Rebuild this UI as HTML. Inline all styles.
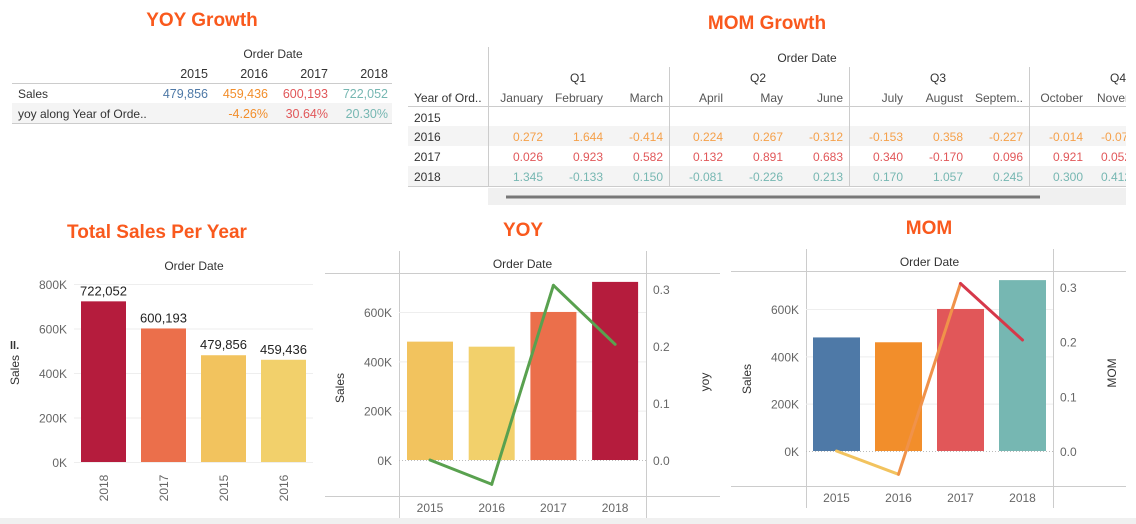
<!DOCTYPE html>
<html><head><meta charset="utf-8"><style>
html,body{margin:0;padding:0;background:#fff;width:1136px;height:524px;overflow:hidden}
svg{display:block;font-family:"Liberation Sans",sans-serif}
</style></head><body>
<svg id="s" width="1136" height="524" xmlns="http://www.w3.org/2000/svg">
<defs><clipPath id="tclip"><rect x="400" y="40" width="726" height="170"/></clipPath></defs>
<rect x="0" y="518" width="1136" height="6" fill="#f0f0f0"/>
<g>
<text x="202" y="26" text-anchor="middle" font-size="19" font-weight="bold" fill="#f9591d">YOY Growth</text>
<text x="273" y="58" text-anchor="middle" font-size="12" fill="#333">Order Date</text>
<rect x="12" y="103" width="380" height="20" fill="#f4f4f4"/>
<line x1="12" y1="83.5" x2="392" y2="83.5" stroke="#ccc"/>
<line x1="12" y1="123.5" x2="392" y2="123.5" stroke="#ccc"/>
<g font-size="12.5" text-anchor="end" fill="#333">
<text x="208" y="78">2015</text><text x="268" y="78">2016</text><text x="328" y="78">2017</text><text x="388" y="78">2018</text>
<text x="208" y="98" fill="#4e79a7">479,856</text><text x="268" y="98" fill="#f28e2b">459,436</text><text x="328" y="98" fill="#e15759">600,193</text><text x="388" y="98" fill="#76b7b2">722,052</text>
<text x="268" y="118" fill="#f28e2b">-4.26%</text><text x="328" y="118" fill="#e15759">30.64%</text><text x="388" y="118" fill="#76b7b2">20.30%</text>
</g>
<text x="18" y="98" font-size="12" fill="#333">Sales</text>
<text x="18" y="118" font-size="12" fill="#333">yoy along Year of Orde..</text>
</g>
<text x="767" y="29" text-anchor="middle" font-size="19" font-weight="bold" fill="#f9591d">MOM Growth</text>
<g id="momt" clip-path="url(#tclip)">
<rect x="408" y="126" width="718" height="20" fill="#f4f4f4"/>
<rect x="408" y="166" width="718" height="20" fill="#f4f4f4"/>
<line x1="408" y1="106.5" x2="1126" y2="106.5" stroke="#ccc"/>
<line x1="408" y1="186.5" x2="1126" y2="186.5" stroke="#ccc"/>
<line x1="488.5" y1="47" x2="488.5" y2="187" stroke="#ccc"/>
<line x1="669.5" y1="67" x2="669.5" y2="187" stroke="#ccc"/>
<line x1="849.5" y1="67" x2="849.5" y2="187" stroke="#ccc"/>
<line x1="1029.5" y1="67" x2="1029.5" y2="187" stroke="#ccc"/>
<rect x="488" y="188" width="638" height="17" fill="#f0f0f0"/>
<line x1="506" y1="197" x2="1040" y2="197" stroke="#777" stroke-width="3"/>
<text x="807" y="62" text-anchor="middle" font-size="12" fill="#333">Order Date</text>
<g font-size="12" fill="#333" text-anchor="middle"><text x="578" y="82">Q1</text><text x="758" y="82">Q2</text><text x="938" y="82">Q3</text><text x="1118" y="82">Q4</text></g>
<text x="414" y="102" font-size="12" fill="#333">Year of Ord..</text>
<g font-size="12" fill="#333"><text x="414" y="122">2015</text><text x="414" y="141">2016</text><text x="414" y="161">2017</text><text x="414" y="181">2018</text></g>
</g>
<g id="c1"></g>
<g id="c2"></g>
<g id="c3"></g>
</svg>
<script>
const NS="http://www.w3.org/2000/svg";
function mk(p,t,a,txt){const e=document.createElementNS(NS,t);for(const k in a)e.setAttribute(k,a[k]);if(txt!==undefined)e.textContent=txt;p.appendChild(e);return e;}
const months=["January","February","March","April","May","June","July","August","Septem..","October","November"];
const mom2016=["0.272","1.644","-0.414","0.224","0.267","-0.312","-0.153","0.358","-0.227","-0.014","-0.071"];
const mom2017=["0.026","0.923","0.582","0.132","0.891","0.683","0.340","-0.170","0.096","0.921","0.052"];
const mom2018=["1.345","-0.133","0.150","-0.081","-0.226","0.213","0.170","1.057","0.245","0.300","0.412"];
const mt=document.getElementById('momt');
months.forEach((m,i)=>{const x=543+i*60;const last=i==10;
 const a=last?{x:1097,y:102,"font-size":12,fill:"#555"}:{x:x,y:102,"font-size":12,fill:"#555","text-anchor":"end"};
 let t=mk(mt,"text",a,m);
 [[mom2016,141,"#f5a04a"],[mom2017,161,"#e15759"],[mom2018,181,"#76b7b2"]].forEach(r=>{
  const b=last?{x:1101,y:r[1],"font-size":12,fill:r[2]}:{x:x,y:r[1],"font-size":12,fill:r[2],"text-anchor":"end"};
  let c=mk(mt,"text",b,r[0][i]);});
});
const c1Years=["2018","2017","2015","2016"];
const c1Sales=[722052,600193,479856,459436];
const c1Colors=["#b51c3d","#eb6f4b","#f2c35e","#f2d06b"];
const c1Ticks=[0,200000,400000,600000,800000];
const years=["2015","2016","2017","2018"];
const sales=[479856,459436,600193,722052];
const yoy=[0,-0.0426,0.3064,0.203];
const mom=[0,-0.0426,0.3064,0.203];
const salesTicks=[0,200000,400000,600000];
const rightTicks=[0,0.1,0.2,0.3];
function kfmt(v){return (v/1000)+"K";}
(function(){const g=document.getElementById('c1');
 mk(g,"text",{x:157,y:238,"text-anchor":"middle","font-size":19,"font-weight":"bold",fill:"#f9591d"},"Total Sales Per Year");
 mk(g,"text",{x:194,y:270,"text-anchor":"middle","font-size":12,fill:"#333"},"Order Date");
 const y=v=>462-v/800000*178;
 c1Ticks.forEach(t=>{mk(g,"line",{x1:74,x2:313,y1:y(t)+.5,y2:y(t)+.5,stroke:"#eee"});
  let l=mk(g,"text",{x:67,y:y(t)+5,"text-anchor":"end","font-size":12,fill:"#666"},kfmt(t));});
 c1Sales.forEach((v,i)=>{const x0=81+i*60;
  let b=mk(g,"rect",{x:x0,y:y(v),width:45,height:y(0)-y(v),fill:c1Colors[i]});
  mk(g,"text",{x:x0+22.5,y:y(v)-6,"text-anchor":"middle","font-size":13,fill:"#222"},v.toLocaleString('en-US'));
  let xl=mk(g,"text",{x:0,y:0,transform:`translate(${x0+27},${488}) rotate(-90)`,"text-anchor":"middle","font-size":12,fill:"#666"},c1Years[i]);});
 mk(g,"text",{x:0,y:0,transform:"translate(19,370) rotate(-90)","text-anchor":"middle","font-size":12,fill:"#333"},"Sales");
 mk(g,"text",{x:10,y:349,"font-size":11,fill:"#333","font-weight":"bold"},"ll.");
})();
function combo(id,o){const g=document.getElementById(id);
 mk(g,"text",{x:o.tx,y:o.ty,"text-anchor":"middle","font-size":19,"font-weight":"bold",fill:"#f9591d"},o.title);
 const y=v=>o.y0-v/600000*o.s6, yr=v=>o.y0-v/0.3*o.r3;
 mk(g,"line",{x1:o.vl+.5,x2:o.vl+.5,y1:o.top-22,y2:o.bot+22,stroke:"#ccc"});
 mk(g,"line",{x1:o.vr+.5,x2:o.vr+.5,y1:o.top-22,y2:o.bot+22,stroke:"#ccc"});
 mk(g,"line",{x1:o.lx,x2:o.rx,y1:o.top+.5,y2:o.top+.5,stroke:"#ccc"});
 mk(g,"line",{x1:o.lx,x2:o.rx,y1:o.bot+.5,y2:o.bot+.5,stroke:"#ccc"});
 mk(g,"text",{x:(o.vl+o.vr)/2,y:o.top-5,"text-anchor":"middle","font-size":12,fill:"#333"},"Order Date");
 salesTicks.forEach(t=>{if(t>0)mk(g,"line",{x1:o.vl,x2:o.vr,y1:y(t)+.5,y2:y(t)+.5,stroke:"#eee"});
  let l=mk(g,"text",{x:o.vl-7,y:y(t)+5,"text-anchor":"end","font-size":12,fill:"#666"},kfmt(t));});
 rightTicks.forEach(t=>{let l=mk(g,"text",{x:o.vr+7,y:yr(t)+5,"font-size":12,fill:"#666"},t.toFixed(1));});
 mk(g,"line",{x1:o.vl,x2:o.vr,y1:y(0)+.5,y2:y(0)+.5,stroke:"#bbb","stroke-dasharray":"1 2"});
 const cx=[];
 sales.forEach((v,i)=>{const x0=o.bx+i*o.bs;cx.push(x0+o.bw/2);
  let b=mk(g,"rect",{x:x0,y:y(v),width:o.bw,height:y(0)-y(v),fill:o.colors[i]});
  let xl=mk(g,"text",{x:x0+o.bw/2,y:o.bot+16,"text-anchor":"middle","font-size":12,fill:"#666"},years[i]);});
 for(let i=0;i<o.line.length-1;i++){
  let s=mk(g,"line",{x1:cx[i],y1:yr(o.line[i]),x2:cx[i+1],y2:yr(o.line[i+1]),stroke:o.lc[i],"stroke-width":3,"stroke-linecap":"round"});
  }
 mk(g,"text",{x:0,y:0,transform:`translate(${o.vl-55},${o.y0-72}) rotate(-90)`,"text-anchor":"middle","font-size":12,fill:"#333"},"Sales");
 mk(g,"text",{x:0,y:0,transform:`translate(${o.vr+63},${o.y0-78}) rotate(-90)`,"text-anchor":"middle","font-size":12,fill:"#333"},o.rt);
}
combo('c2',{title:"YOY",tx:523,ty:236,vl:399,vr:646,lx:325,rx:720,top:273,bot:496,y0:460,s6:148,r3:171,bx:407,bs:61.7,bw:46,
 colors:["#f2c35e","#f2d06b","#eb6f4b","#b51c3d"],line:yoy,lc:["#59a14f","#59a14f","#59a14f"],rt:"yoy"});
combo('c3',{title:"MOM",tx:929,ty:234,vl:806,vr:1053,lx:731,rx:1126,top:271,bot:486,y0:451,s6:142,r3:164,bx:813,bs:62,bw:47,
 colors:["#4e79a7","#f28e2b","#e15759","#76b7b2"],line:mom,lc:["#f2c35e","#f0924a","#d6384a"],rt:"MOM"});
</script>
</body></html>
